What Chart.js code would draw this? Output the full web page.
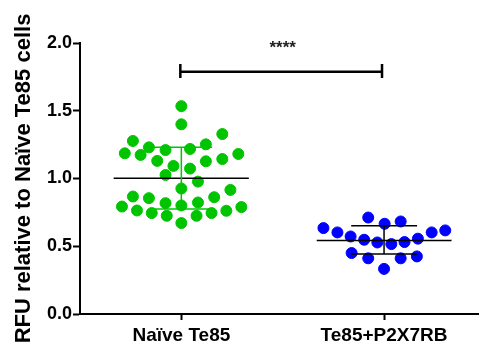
<!DOCTYPE html>
<html>
<head>
<meta charset="utf-8">
<script src="https://cdn.jsdelivr.net/npm/chart.js@4"></script>
<style>
  html, body { margin: 0; padding: 0; background: #fff; overflow: hidden; }
  #wrap { width: 485px; height: 349px; }
</style>
</head>
<body>
<div id="wrap"><canvas id="chart"></canvas></div>
<script>
const categories = ['Naïve Te85', 'Te85+P2X7RB'];

// x is position within the group (1 = group centre), y = RFU
const naiveX = [1.000, 1.000, 1.202, 0.761, 0.840, 0.922, 1.043, 1.121, 0.721, 0.799, 1.281, 1.202, 1.121, 0.881, 0.961, 1.043, 0.922, 1.082, 1.000, 1.242, 0.761, 0.840, 1.162, 0.922, 1.000, 1.082, 0.707, 1.296, 0.781, 0.854, 1.149, 1.222, 0.928, 1.075, 1.000];
const naiveY = [1.534, 1.400, 1.328, 1.277, 1.230, 1.210, 1.218, 1.252, 1.186, 1.174, 1.181, 1.144, 1.127, 1.130, 1.093, 1.073, 1.026, 0.977, 0.926, 0.916, 0.867, 0.855, 0.862, 0.818, 0.801, 0.823, 0.793, 0.789, 0.764, 0.745, 0.745, 0.762, 0.725, 0.725, 0.671];

const p2x7X = [1.922, 2.003, 2.082, 1.701, 1.770, 1.835, 1.902, 1.967, 2.036, 2.101, 2.167, 2.235, 2.302, 1.840, 1.922, 2.082, 2.162, 2.000];
const p2x7Y = [0.712, 0.666, 0.683, 0.634, 0.602, 0.572, 0.548, 0.528, 0.516, 0.531, 0.556, 0.602, 0.617, 0.450, 0.411, 0.411, 0.425, 0.333];

// mean and mean +/- SD
const naiveMean = 1.002, naiveHi = 1.230, naiveLo = 0.774;
const p2x7Mean = 0.543, p2x7Hi = 0.651, p2x7Lo = 0.443;

const sigY = 1.787, sigTickHi = 1.845, sigTickLo = 1.742;
const sigText = '****';

const GREEN = '#00c400';
const BLUE = '#0000ff';
const FONT = '"Liberation Sans", Arial, sans-serif';

function pts(xs, ys) {
  return xs.map((x, i) => ({ x: x, y: ys[i] }));
}

function seg(x1, y1, x2, y2, color, width) {
  return {
    type: 'line',
    data: [{ x: x1, y: y1 }, { x: x2, y: y2 }],
    borderColor: color,
    borderWidth: width,
    pointRadius: 0,
    pointHoverRadius: 0,
    fill: false,
    order: 0
  };
}

const datasets = [
  {
    type: 'scatter',
    data: pts(naiveX, naiveY),
    backgroundColor: GREEN,
    borderColor: GREEN,
    pointRadius: 5.5,
    order: 2
  },
  {
    type: 'scatter',
    data: pts(p2x7X, p2x7Y),
    backgroundColor: BLUE,
    borderColor: BLUE,
    pointRadius: 5.5,
    order: 2
  },
  // naive: SD bar in green, mean in black
  seg(1, naiveLo, 1, naiveHi, GREEN, 1.5),
  seg(0.848, naiveHi, 1.152, naiveHi, GREEN, 1.5),
  seg(0.848, naiveLo, 1.152, naiveLo, GREEN, 1.5),
  seg(0.666, naiveMean, 1.333, naiveMean, '#000', 1.5),
  // P2X7RB: all black
  seg(2, p2x7Lo, 2, p2x7Hi, '#000', 1.5),
  seg(1.838, p2x7Hi, 2.163, p2x7Hi, '#000', 1.5),
  seg(1.838, p2x7Lo, 2.163, p2x7Lo, '#000', 1.5),
  seg(1.668, p2x7Mean, 2.333, p2x7Mean, '#000', 1.5),
  // significance bar
  seg(0.995, sigY, 1.99, sigY, '#000', 2.5),
  seg(0.995, sigTickLo, 0.995, sigTickHi, '#000', 2.5),
  seg(1.99, sigTickLo, 1.99, sigTickHi, '#000', 2.5)
];

const starsPlugin = {
  id: 'stars',
  afterDatasetsDraw(chart) {
    const ctx = chart.ctx;
    const x = chart.scales.x.getPixelForValue(1.5);
    const y = chart.scales.y.getPixelForValue(1.99);
    ctx.save();
    ctx.fillStyle = '#222';
    ctx.font = 'bold 17px ' + FONT;
    ctx.textAlign = 'center';
    ctx.textBaseline = 'middle';
    ctx.fillText(sigText, x, y + 4);
    ctx.restore();
  }
};

new Chart(document.getElementById('chart'), {
  data: { datasets },
  plugins: [starsPlugin],
  options: {
    responsive: true,
    maintainAspectRatio: false,
    animation: false,
    layout: { padding: { top: 43, right: 0, bottom: 0, left: 11 } },
    plugins: { legend: { display: false }, tooltip: { enabled: false } },
    scales: {
      x: {
        type: 'linear',
        min: 0.5,
        max: 2.466,
        afterBuildTicks: (axis) => { axis.ticks = [{ value: 1 }, { value: 2 }]; },
        afterFit: (axis) => {
          axis.height = 35;
          axis.paddingLeft = 0;
          axis.paddingRight = 0;
        },
        ticks: {
          color: '#000',
          font: { family: FONT, size: 19, weight: 'bold' },
          padding: 4,
          maxRotation: 0,
          callback: (v) => categories[v - 1]
        },
        grid: { display: true, drawOnChartArea: false, drawTicks: true, tickLength: 6, tickWidth: 2, color: '#000' },
        border: { color: '#000', width: 2 }
      },
      y: {
        min: 0,
        max: 2,
        afterFit: (axis) => { axis.width = 69; },
        ticks: {
          stepSize: 0.5,
          color: '#000',
          font: { family: FONT, size: 18, weight: 'bold' },
          padding: 1,
          callback: (v) => v.toFixed(1)
        },
        grid: { display: true, drawOnChartArea: false, drawTicks: true, tickLength: 7, tickWidth: 2, color: '#000' },
        border: { color: '#000', width: 2 },
        title: {
          display: true,
          text: 'RFU relative to Naïve Te85 cells',
          color: '#000',
          font: { family: FONT, size: 22, weight: 'bold' },
          padding: { top: 0, bottom: 0 }
        }
      }
    }
  }
});
</script>
</body>
</html>
